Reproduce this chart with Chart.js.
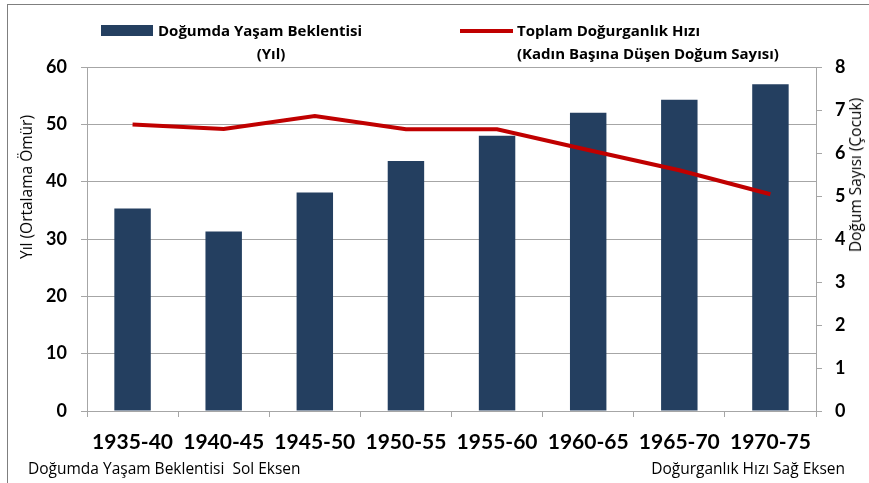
<!DOCTYPE html>
<html>
<head>
<meta charset="utf-8">
<script src="https://cdn.jsdelivr.net/npm/chart.js@4/dist/chart.umd.min.js"></script>
<style>
  body { margin: 0; background: #fff; font-family: "Open Sans", Lato, sans-serif; }
  #wrap { position: relative; width: 869px; height: 483px; overflow: hidden; }
  #frame { position: absolute; left: 7px; top: 4px; width: 900px; height: 520px; border-left: 1px solid #7f7f7f; border-top: 1px solid #7f7f7f; }
  canvas { position: absolute; left: 0; top: 0; }
  .lg { position: absolute; font-weight: bold; font-size: 15px; line-height: 23px; color: #000; white-space: nowrap; }
  .note { position: absolute; font-size: 15.5px; color: #000; white-space: nowrap; top: 457px; }
  .ytitle { position: absolute; font-size: 15.5px; color: #000; white-space: nowrap; transform: translate(-50%, -50%) rotate(-90deg); }
</style>
</head>
<body>
<div id="wrap">
  <div id="frame"></div>
  <canvas id="myChart" width="869" height="483"></canvas>
  <div style="position:absolute;left:101px;top:25px;width:52px;height:11px;background:#243F60"></div>
  <div class="lg" style="left:158px;top:19px">Doğumda Yaşam Beklentisi</div>
  <div class="lg" style="left:158px;top:42px;width:226px;text-align:center">(Yıl)</div>
  <div style="position:absolute;left:460px;top:29px;width:53px;height:4px;background:#C00000"></div>
  <div class="lg" style="left:517px;top:19px">Toplam Doğurganlık Hızı<br>(Kadın Başına Düşen Doğum Sayısı)</div>
  <div class="ytitle" style="left:26px;top:187px">Yıl (Ortalama Ömür)</div>
  <div class="ytitle" style="left:855px;top:175px">Doğum Sayısı (Çocuk)</div>
  <div class="note" style="left:28px">Doğumda Yaşam Beklentisi&nbsp; Sol Eksen</div>
  <div class="note" style="right:24px">Doğurganlık Hızı Sağ Eksen</div>
</div>
<script>
// values
var periods = ['1935-40', '1940-45', '1945-50', '1950-55', '1955-60', '1960-65', '1965-70', '1970-75'];
var lifeExpectancy = [35.3, 31.3, 38.1, 43.6, 48.0, 52.0, 54.3, 57.0];
var fertilityRate = [6.66, 6.56, 6.86, 6.55, 6.55, 6.07, 5.60, 5.04];

var gridGray = '#A6A6A6';
var ctx = document.getElementById('myChart').getContext('2d');

window.myChart = new Chart(ctx, {
    type: 'bar',
    data: {
        labels: periods,
        datasets: [
            {
                type: 'line',
                label: 'Toplam Doğurganlık Hızı',
                data: fertilityRate,
                yAxisID: 'yRight',
                borderColor: '#C00000',
                borderWidth: 4,
                pointRadius: 0,
                tension: 0,
                order: 0
            },
            {
                label: 'Doğumda Yaşam Beklentisi',
                data: lifeExpectancy,
                yAxisID: 'yLeft',
                backgroundColor: '#243F60',
                barPercentage: 0.4,
                categoryPercentage: 1,
                order: 1
            }
        ]
    },
    options: {
        responsive: false,
        animation: false,
        layout: { padding: { top: 67, left: 0, right: 0, bottom: 0 } },
        plugins: { legend: { display: false }, tooltip: { enabled: false } },
        scales: {
            x: {
                grid: { drawOnChartArea: false, color: gridGray, tickLength: 6, offset: true },
                border: { color: gridGray },
                ticks: { color: '#000', padding: 13, maxRotation: 0, font: { family: 'Lato', size: 21, weight: 'bold' } },
                afterFit: function (s) { s.height = 72; }
            },
            yLeft: {
                position: 'left',
                min: 0, max: 60,
                ticks: { stepSize: 10, color: '#000', padding: 14, font: { family: 'Lato', size: 18, weight: 'bold' } },
                grid: { color: gridGray, tickLength: 6 },
                border: { color: gridGray },
                afterFit: function (s) { s.width = 87; }
            },
            yRight: {
                position: 'right',
                min: 0, max: 8,
                ticks: { stepSize: 1, color: '#000', padding: 13, font: { family: 'Lato', size: 18, weight: 'bold' } },
                grid: { drawOnChartArea: false, color: gridGray, tickLength: 6 },
                border: { color: gridGray },
                afterFit: function (s) { s.width = 53; }
            }
        }
    }
});
</script>
</body>
</html>
